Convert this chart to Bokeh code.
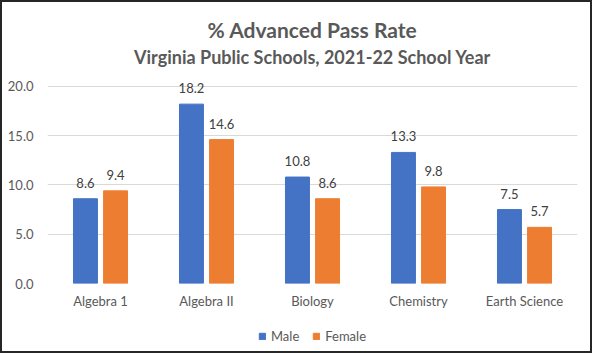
from bokeh.plotting import figure
from bokeh.layouts import column
from bokeh.core.properties import value
from bokeh.models import (ColumnDataSource, LabelSet, Label, Legend, LegendItem,
                          NumeralTickFormatter, FactorRange, FixedTicker, Range1d)
from bokeh.transform import dodge
from bokeh.embed import file_html
from bokeh.resources import INLINE

categories = ["Algebra 1", "Algebra II", "Biology", "Chemistry", "Earth Science"]
male = [8.6, 18.2, 10.8, 13.3, 7.5]
female = [9.4, 14.6, 8.6, 9.8, 5.7]
y_ticks = [0, 5, 10, 15, 20]
series_names = ["Male", "Female"]
title_text = "% Advanced Pass Rate"
subtitle_text = "Virginia Public Schools, 2021-22 School Year"

BLUE = "#4472C4"
ORANGE = "#ED7D31"
GRAY = "#595959"
FONT = "Lato"
W = 588

# ---- header with titles ----
p0 = figure(width=W, height=70, output_backend="svg", toolbar_location=None,
            x_range=Range1d(0, 1), y_range=Range1d(0, 70), min_border=0,
            x_axis_type=None, y_axis_type=None)
p0.grid.grid_line_color = None
p0.outline_line_color = None
p0.add_layout(Label(x=0.5, y=43, text=title_text, text_align="center",
                    text_baseline="middle", text_font=FONT, text_font_size="21px",
                    text_font_style="bold", text_color=GRAY))
p0.add_layout(Label(x=0.5, y=16, text=subtitle_text, text_align="center",
                    text_baseline="middle", text_font=FONT, text_font_size="18px",
                    text_font_style="bold", text_color=GRAY))

# ---- main chart ----
src = ColumnDataSource(dict(
    cat=categories, male=male, female=female,
    ml=[f"{v:.1f}" for v in male], fl=[f"{v:.1f}" for v in female],
))

# a little headroom above 20 so the tallest value label is not clipped
p = figure(x_range=FactorRange(*categories), y_range=(0, 20.8),
           width=W, height=248, output_backend="svg", toolbar_location=None,
           title=None, min_border_left=45, min_border_right=13,
           min_border_top=6, min_border_bottom=37)

p.vbar(x=dodge("cat", -0.142, range=p.x_range), top="male", width=0.226,
       source=src, color=BLUE)
p.vbar(x=dodge("cat", 0.142, range=p.x_range), top="female", width=0.226,
       source=src, color=ORANGE)

for col, lab, off in (("male", "ml", -0.142), ("female", "fl", 0.142)):
    p.add_layout(LabelSet(x=dodge("cat", off, range=p.x_range), y=col, text=lab, source=src,
                          text_align="center", text_baseline="middle", y_offset=16,
                          text_font=value(FONT), text_font_size="13px",
                          text_color="#404040"))

p.yaxis.ticker = FixedTicker(ticks=y_ticks)
p.yaxis.formatter = NumeralTickFormatter(format="0.0")
for ax in (p.xaxis[0], p.yaxis[0]):
    ax.axis_line_color = None
    ax.major_tick_line_color = None
    ax.minor_tick_line_color = None
    ax.major_tick_out = 0
    ax.major_tick_in = 0
    ax.major_label_text_font = FONT
    ax.major_label_text_font_size = "13px"
    ax.major_label_text_color = GRAY
p.yaxis.major_label_standoff = 14
p.xaxis.major_label_standoff = 9

p.xgrid.grid_line_color = None
p.ygrid.grid_line_color = "#D9D9D9"
p.ygrid.ticker = FixedTicker(ticks=y_ticks)
p.outline_line_color = None

# ---- legend strip below the chart ----
p2 = figure(width=W, height=31, output_backend="svg", toolbar_location=None,
            x_range=Range1d(0, 1), y_range=Range1d(0, 1), min_border=0,
            x_axis_type=None, y_axis_type=None)
p2.grid.grid_line_color = None
p2.outline_line_color = None
hidden = ColumnDataSource(dict(x=[float("nan")], top=[0.0]))
lr1 = p2.vbar(x="x", top="top", width=0.1, source=hidden, color=BLUE)
lr2 = p2.vbar(x="x", top="top", width=0.1, source=hidden, color=ORANGE)
legend = Legend(items=[LegendItem(label=series_names[0], renderers=[lr1]),
                       LegendItem(label=series_names[1], renderers=[lr2])],
                orientation="horizontal", location="center",
                border_line_color=None, background_fill_alpha=0,
                label_text_font=FONT, label_text_font_size="13px", label_text_color=GRAY,
                glyph_width=8, glyph_height=8, label_standoff=5, spacing=13,
                padding=0, margin=0)
p2.add_layout(legend, "center")

layout = column(p0, p, p2, spacing=0)
layout.styles = {"border": "2px solid #262626"}

open("out.html", "w").write(file_html(layout, INLINE))
